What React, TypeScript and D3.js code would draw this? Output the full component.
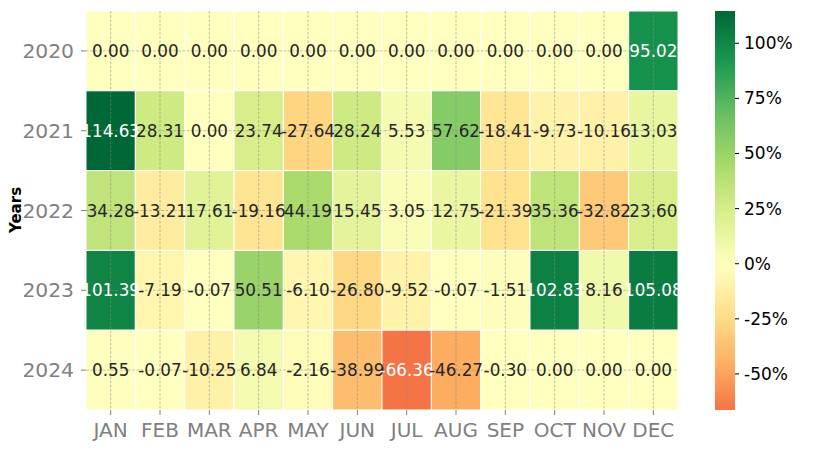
import React from "react";
import * as d3 from "d3";

const months = ["JAN", "FEB", "MAR", "APR", "MAY", "JUN", "JUL", "AUG", "SEP", "OCT", "NOV", "DEC"];
const years = ["2020", "2021", "2022", "2023", "2024"];
const values2020 = [0, 0, 0, 0, 0, 0, 0, 0, 0, 0, 0, 95.02];
const values2021 = [114.63, 28.31, 0, 23.74, -27.64, 28.24, 5.53, 57.62, -18.41, -9.73, -10.16, 13.03];
const values2022 = [34.28, -13.21, 17.61, -19.16, 44.19, 15.45, 3.05, 12.75, -21.39, 35.36, -32.82, 23.6];
const values2023 = [101.39, -7.19, -0.07, 50.51, -6.1, -26.8, -9.52, -0.07, -1.51, 102.83, 8.16, 105.08];
const values2024 = [0.55, -0.07, -10.25, 6.84, -2.16, -38.99, -66.36, -46.27, -0.3, 0, 0, 0];
const rows = [values2020, values2021, values2022, values2023, values2024];
const cbarTicks = [-50, -25, 0, 25, 50, 75, 100];

const rdylgn = ["#a50026", "#d73027", "#f46d43", "#fdae61", "#fee08b", "#ffffbf", "#d9ef8b", "#a6d96a", "#66bd63", "#1a9850", "#006837"];

const FONT = "DejaVu Sans, sans-serif";

export default function App() {
  const W = 840, H = 455;
  const left = 86, right = 678, top = 11, bottom = 410;
  const all = rows.flat();
  const vmin = d3.min(all)!;
  const vmax = d3.max(all)!;
  const vr = Math.max(vmax, -vmin);
  const cmap = d3.scaleLinear<string>().domain(d3.range(11).map(i => i / 10)).range(rdylgn).interpolate(d3.interpolateRgb);
  const color = (v: number) => cmap((v + vr) / (2 * vr));

  const x = d3.scaleBand().domain(months).range([left, right]).padding(0);
  const y = d3.scaleBand().domain(years).range([top, bottom]).padding(0);
  const cb = d3.scaleLinear().domain([vmin, vmax]).range([bottom, top]);
  const cbX = 715, cbW = 20;

  const lum = (c: string) => {
    const r = d3.rgb(c);
    const f = (u: number) => {
      u /= 255;
      return u <= 0.03928 ? u / 12.92 : Math.pow((u + 0.055) / 1.055, 2.4);
    };
    return 0.2126 * f(r.r) + 0.7152 * f(r.g) + 0.0722 * f(r.b);
  };

  const stops = d3.range(0, 41).map(i => {
    const t = i / 40;
    const v = vmin + t * (vmax - vmin);
    return { off: t, c: color(v) };
  });

  return (
    <svg width={W} height={H} style={{ display: "block", position: "absolute", left: 0, top: 0, background: "#fff" }} fontFamily={FONT}>
      <defs>
        <linearGradient id="cbg" x1="0" y1="1" x2="0" y2="0">
          {stops.map((s, i) => <stop key={i} offset={s.off} stopColor={s.c} />)}
        </linearGradient>
      </defs>
      {rows.map((row, ri) =>
        row.map((v, ci) => (
          <rect key={`c${ri}-${ci}`} x={x(months[ci])!} y={y(years[ri])!} width={x.bandwidth()} height={y.bandwidth()}
            fill={color(v)} stroke="#fff" strokeWidth={1} />
        ))
      )}
      {months.map(m => (
        <line key={`gv${m}`} x1={x(m)! + x.bandwidth() / 2} x2={x(m)! + x.bandwidth() / 2} y1={top} y2={bottom}
          stroke="#8a8a8a" strokeOpacity={0.7} strokeWidth={0.8} strokeDasharray="2.6,1.6" />
      ))}
      {years.map(yr => (
        <line key={`gh${yr}`} y1={y(yr)! + y.bandwidth() / 2} y2={y(yr)! + y.bandwidth() / 2} x1={left} x2={right}
          stroke="#8a8a8a" strokeOpacity={0.7} strokeWidth={0.8} strokeDasharray="2.6,1.6" />
      ))}
      {rows.map((row, ri) =>
        row.map((v, ci) => {
          const c = color(v);
          return (
            <text key={`t${ri}-${ci}`} x={x(months[ci])! + x.bandwidth() / 2} y={y(years[ri])! + y.bandwidth() / 2}
              textAnchor="middle" dominantBaseline="central" fontSize={16.8}
              fill={lum(c) < 0.408 ? "#ffffff" : "#262626"}>{v.toFixed(2)}</text>
          );
        })
      )}
      {years.map(yr => (
        <g key={`yl${yr}`}>
          <line x1={81} x2={86} y1={y(yr)! + y.bandwidth() / 2} y2={y(yr)! + y.bandwidth() / 2} stroke="#808080" strokeWidth={1} />
          <text x={74} y={y(yr)! + y.bandwidth() / 2} textAnchor="end" dominantBaseline="central" fontSize={20.3} fill="#808080">{yr}</text>
        </g>
      ))}
      {months.map(m => (
        <g key={`ml${m}`}>
          <line x1={x(m)! + x.bandwidth() / 2} x2={x(m)! + x.bandwidth() / 2} y1={bottom} y2={bottom + 5} stroke="#808080" strokeWidth={1} />
          <text x={x(m)! + x.bandwidth() / 2} y={437} textAnchor="middle" fontSize={20} fill="#808080">{m}</text>
        </g>
      ))}
      <text transform={`translate(21,210) rotate(-90)`} textAnchor="middle" fontSize={15} fontWeight="bold" fill="#000">Years</text>
      <rect x={cbX} y={top} width={cbW} height={bottom - top} fill="url(#cbg)" />
      {cbarTicks.map(t => (
        <g key={`cb${t}`}>
          <line x1={cbX + cbW} x2={cbX + cbW + 4} y1={cb(t)} y2={cb(t)} stroke="#000" strokeWidth={1} />
          <text x={cbX + cbW + 9} y={cb(t)} dominantBaseline="central" fontSize={17} fill="#000">{`${t}%`}</text>
        </g>
      ))}
    </svg>
  );
}
